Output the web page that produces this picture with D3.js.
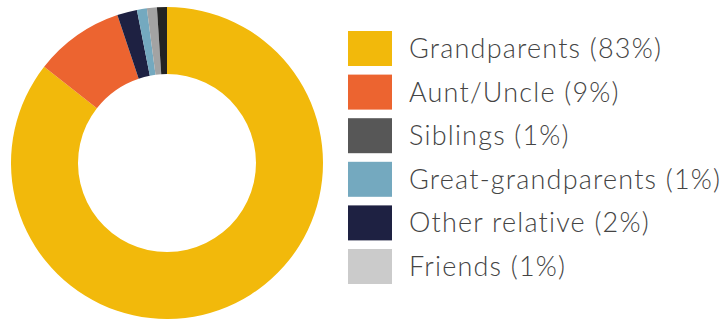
<!DOCTYPE html>
<html>
<head>
<meta charset="utf-8">
<script src="https://cdn.jsdelivr.net/npm/d3@7"></script>
<style>
  html, body { margin: 0; padding: 0; background: #fff; }
  svg { display: block; }
</style>
</head>
<body>
<svg id="chart" width="727" height="320"></svg>
<script>
// Data
const categories = ["Grandparents", "Aunt/Uncle", "Siblings", "Great-grandparents", "Other relative", "Friends"];
const values = [83, 9, 1, 1, 2, 1];
const legendLabels = ["Grandparents (83%)", "Aunt/Uncle (9%)", "Siblings (1%)", "Great-grandparents (1%)", "Other relative (2%)", "Friends (1%)"];
// Order of slices clockwise from 12 o'clock
const pieOrder = ["Grandparents", "Aunt/Uncle", "Other relative", "Great-grandparents", "Friends", "Siblings"];
const legendColors = ["#f2b90b", "#ec6430", "#575757", "#74a9bf", "#1e2142", "#cbcbcb"];
const sliceColors = ["#f2b90b", "#ec6430", "#232323", "#74a9bf", "#1e2142", "#a3a3a3"];

const svg = d3.select("#chart");
const cx = 167, cy = 163, rOuter = 156, rInner = 89;

const data = categories.map((c, i) => ({ name: c, value: values[i], i }));
const pieData = pieOrder.map(n => data.find(d => d.name === n));

const pie = d3.pie().sort(null).value(d => d.value);
const arc = d3.arc().innerRadius(rInner).outerRadius(rOuter);

svg.append("g")
  .attr("transform", `translate(${cx},${cy})`)
  .selectAll("path")
  .data(pie(pieData))
  .join("path")
  .attr("d", arc)
  .attr("fill", d => sliceColors[d.data.i]);

// Legend
const ly = d3.scalePoint().domain(categories).range([48.5, 266.5]);
const leg = svg.append("g");
const items = leg.selectAll("g").data(categories).join("g")
  .attr("transform", d => `translate(348,${ly(d)})`);
items.append("rect")
  .attr("x", 0).attr("y", -17.5).attr("width", 44).attr("height", 35)
  .attr("fill", (d, i) => legendColors[i]);
items.append("text")
  .attr("x", 61).attr("y", 9.5)
  .attr("font-family", "Lato, 'Open Sans', sans-serif")
  .attr("font-weight", 300)
  .attr("font-size", 27)
  .attr("letter-spacing", 1.2)
  .attr("fill", "#444")
  .text((d, i) => legendLabels[i]);
</script>
</body>
</html>
